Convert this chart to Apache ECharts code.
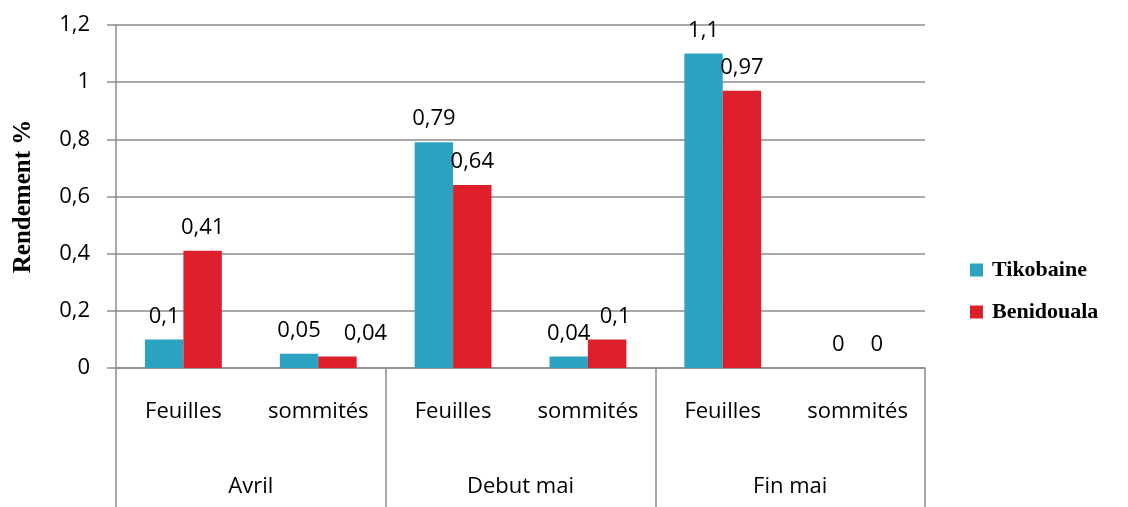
<!DOCTYPE html>
<html><head><meta charset="utf-8">
<script src="https://cdn.jsdelivr.net/npm/echarts@6/dist/echarts.min.js"></script>
<style>html,body{margin:0;padding:0;background:#fff}#c{width:1128px;height:507px}</style>
</head><body><div id="c"></div>
<script>
const subCategories = ['Feuilles','sommités','Feuilles','sommités','Feuilles','sommités'];
const groups = ['Avril','Debut mai','Fin mai'];
const tikobaine = [0.1, 0.05, 0.79, 0.04, 1.1, 0];
const benidouala = [0.41, 0.04, 0.64, 0.1, 0.97, 0];
const yTicks = [0, 0.2, 0.4, 0.6, 0.8, 1, 1.2];

const fmt = v => String(v).replace('.', ',');
const font = '"Open Sans", "Noto Sans", sans-serif';
const fs = 22;
const chart = echarts.init(document.getElementById('c'));
const gridColor = '#8c8c8c';
// label nudges to avoid overlapping neighbours (as in the original)
const redLabelShift = [0, 28, 0, 8, 0, 0];
chart.setOption({
  animation: false,
  grid: {left: 116, right: 203, top: 25, bottom: 139},
  legend: {
    orient: 'vertical', left: 965, top: 254, itemGap: 20,
    itemWidth: 13, itemHeight: 13, icon: 'rect',
    textStyle: {fontFamily: '"Liberation Serif", serif', fontWeight: 'bold', fontSize: 22, color: '#000', padding: [0,0,0,4]},
    data: ['Tikobaine','Benidouala']
  },
  xAxis: [{
    type: 'category', data: subCategories, position: 'bottom',
    axisLine: {show: true, lineStyle: {color: gridColor, width: 1.5}},
    axisTick: {show: false},
    axisLabel: {margin: 33, fontFamily: font, fontSize: fs, color: '#000'}
  }, {
    type: 'category', data: groups, position: 'bottom',
    axisLine: {show: false},
    axisTick: {show: true, length: 139, lineStyle: {color: gridColor, width: 1.5}},
    axisLabel: {margin: 108, fontFamily: font, fontSize: fs, color: '#000'}
  }],
  yAxis: {
    type: 'value', min: 0, max: yTicks[yTicks.length-1], interval: 0.2,
    name: 'Rendement %', nameLocation: 'middle', nameGap: 80,
    nameTextStyle: {fontFamily: '"Liberation Serif", serif', fontWeight: 'bold', fontSize: 25, color: '#000'},
    axisLine: {show: true, lineStyle: {color: gridColor, width: 1.5}},
    axisTick: {show: true, length: 9, lineStyle: {color: gridColor, width: 1.5}},
    splitLine: {lineStyle: {color: gridColor, width: 1.5}},
    axisLabel: {margin: 26, fontFamily: font, fontSize: fs, color: '#000',
      formatter: v => fmt(Math.round(v*10)/10)}
  },
  series: [{
    name: 'Tikobaine', type: 'bar', data: tikobaine, barGap: '0%', barCategoryGap: '43%',
    itemStyle: {color: '#2CA3C0'},
    label: {show: true, position: 'top', distance: 12, fontFamily: font, fontSize: fs, color: '#000', formatter: p => fmt(p.value)}
  }, {
    name: 'Benidouala', type: 'bar',
    data: benidouala.map((v, i) => ({value: v, label: {offset: [redLabelShift[i], 0]}})),
    itemStyle: {color: '#DC1F2A'},
    label: {show: true, position: 'top', distance: 12, fontFamily: font, fontSize: fs, color: '#000', formatter: p => fmt(p.value)}
  }]
});
</script></body></html>
